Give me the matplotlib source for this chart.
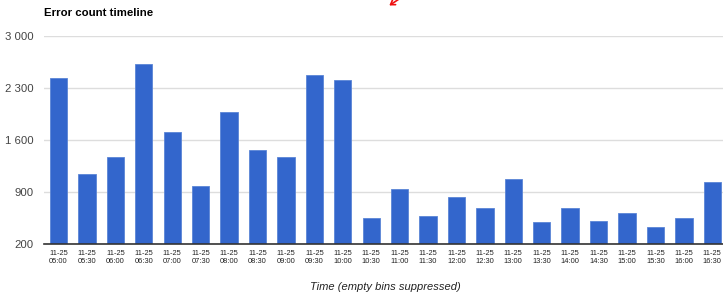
import matplotlib.pyplot as plt
import matplotlib as mpl
import numpy as np

# data
times = ['05:00', '05:30', '06:00', '06:30', '07:00', '07:30', '08:00', '08:30',
         '09:00', '09:30', '10:00', '10:30', '11:00', '11:30', '12:00', '12:30',
         '13:00', '13:30', '14:00', '14:30', '15:00', '15:30', '16:00', '16:30']
day = '11-25'
counts = [2430, 1147, 1371, 2623, 1712, 990, 1977, 1474, 1367, 2475, 2403, 555,
          940, 577, 842, 694, 1075, 505, 685, 514, 617, 433, 550, 1035]
y_ticks = [200, 900, 1600, 2300, 3000]

mpl.rcParams['font.family'] = ['Liberation Sans', 'DejaVu Sans']

W, H = 723, 293
fig = plt.figure(figsize=(W / 100, H / 100), dpi=100)
ax = fig.add_axes([44.3 / W, (H - 244.3) / H, (726.5 - 44.3) / W, 208.3 / H])

x = np.arange(len(counts))
ax.bar(x, counts, width=0.61, bottom=0, color='#3366cc', edgecolor='#5b85d6',
       linewidth=0.6, zorder=3)

ax.set_xlim(-0.5, len(counts) - 0.5)
ax.set_ylim(200, 3000)
ax.set_yticks(y_ticks)
ax.set_yticklabels([f'{v:,}'.replace(',', ' ') for v in y_ticks],
                   fontsize=8.2, color='#444444')
ax.set_xticks(x)
ax.set_xticklabels([day + '\n' + t for t in times], fontsize=5.4,
                   color='#222222', linespacing=1.25)
ax.tick_params(axis='both', length=0)
ax.tick_params(axis='y', pad=8)
ax.tick_params(axis='x', pad=4)

ax.grid(axis='y', color='#dddddd', linewidth=1, zorder=0)
for s in ['top', 'right', 'left']:
    ax.spines[s].set_visible(False)
ax.spines['bottom'].set_color('#333333')
ax.spines['bottom'].set_linewidth(1.2)
ax.spines['bottom'].set_zorder(4)

fig.text(44 / W, 1 - 13 / H, 'Error count timeline', fontsize=8.2,
         fontweight='bold', color='#000000', va='center', ha='left')
fig.text(385 / W, 1 - 287 / H, 'Time (empty bins suppressed)', fontsize=8,
         style='italic', color='#222222', va='center', ha='center')

# red arrow scribble at the top
fig.add_artist(mpl.patches.FancyArrowPatch(
    (402 / W, 1.01), (387 / W, 1 - 7 / H), transform=fig.transFigure,
    arrowstyle='->,head_length=3,head_width=2', color='#ee1111', lw=1.2,
    mutation_scale=1))

fig.savefig('out.png', dpi=100)
